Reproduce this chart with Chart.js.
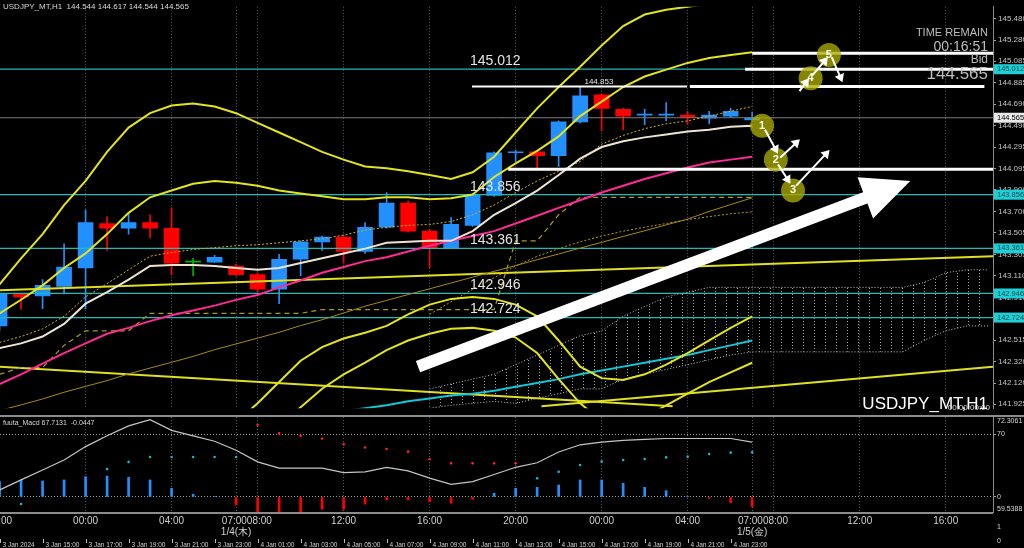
<!DOCTYPE html>
<html>
<head>
<meta charset="utf-8">
<script src="https://cdn.jsdelivr.net/npm/chart.js@4.4.1/dist/chart.umd.min.js"></script>
<style>
  html, body { margin: 0; padding: 0; background: #000; }
  #wrap { position: relative; width: 1024px; height: 548px; background: #000; overflow: hidden; }
  #main { position: absolute; left: 0; top: 0; }
  #sub { position: absolute; left: 0; top: 415px; }
</style>
</head>
<body>
<div id="wrap">
  <canvas id="main" width="1024" height="415"></canvas>
  <canvas id="sub" width="1024" height="133"></canvas>
</div>
<script>
// hourly bars, index 0 = 3 Jan 20:00 (JST)
const opens  = [142.647,142.941,142.923,143.012,143.181,143.591,143.547,143.600,143.547,143.235,143.235,143.199,143.119,142.985,143.261,143.422,143.466,143.333,143.556,143.778,143.520,143.368,143.573,143.849,144.242,144.251,144.215,144.527,144.776,144.643,144.589,144.589,144.589,144.562,144.580,144.544];
const highs  = [142.941,142.941,143.074,143.404,143.716,143.654,143.689,143.671,143.734,143.270,143.297,143.217,143.137,143.306,143.431,143.475,143.484,143.600,143.876,143.796,143.538,143.645,143.867,144.251,144.268,144.259,144.536,144.853,144.785,144.651,144.643,144.705,144.625,144.625,144.651,144.617];
const lows   = [142.602,142.798,142.807,142.941,142.807,143.342,143.493,143.458,143.119,143.110,143.235,143.110,142.959,142.852,143.110,143.342,143.226,143.315,143.547,143.511,143.181,143.360,143.564,143.841,144.161,144.099,144.117,144.518,144.446,144.455,144.500,144.536,144.509,144.509,144.571,144.544];
const closes = [142.941,142.914,143.021,143.190,143.600,143.547,143.600,143.547,143.226,143.237,143.279,143.119,142.985,143.261,143.422,143.466,143.333,143.556,143.778,143.520,143.368,143.582,143.858,144.242,144.251,144.215,144.527,144.767,144.651,144.580,144.591,144.592,144.571,144.589,144.625,144.565];
const greenBars = [9];

// indicators (price), same index as the bars
const maWhite  = [142.442,142.486,142.549,142.665,142.852,142.959,143.074,143.199,143.208,143.208,143.199,143.181,143.164,143.181,143.226,143.270,143.315,143.359,143.413,143.422,143.431,143.431,143.520,143.671,143.778,143.893,144.037,144.188,144.295,144.349,144.384,144.411,144.438,144.455,144.482,144.491];
const maPink   = [142.112,142.201,142.299,142.397,142.487,142.575,142.629,142.691,142.745,142.790,142.834,142.887,142.932,143.002,143.065,143.137,143.190,143.244,143.279,143.333,143.386,143.431,143.475,143.520,143.591,143.662,143.734,143.805,143.876,143.939,144.001,144.054,144.107,144.152,144.179,144.206];
const maDotted = [142.495,142.549,142.620,142.736,142.914,143.037,143.164,143.289,143.324,143.351,143.368,143.386,143.395,143.413,143.431,143.449,143.484,143.529,143.556,143.573,143.582,143.609,143.671,143.760,143.876,143.983,144.072,144.161,144.322,144.402,144.464,144.509,144.536,144.580,144.625,144.669];
const band1Up  = [142.763,142.888,143.021,143.181,143.315,143.493,143.689,143.832,143.894,143.956,143.983,143.965,143.939,143.894,143.867,143.841,143.814,143.814,143.832,143.832,143.814,143.823,143.858,144.019,144.144,144.260,144.393,144.580,144.714,144.848,144.945,145.008,145.070,145.115,145.142,145.168];
const band2Up  = [143.030,143.270,143.493,143.760,143.983,144.251,144.474,144.607,144.678,144.696,144.669,144.607,144.518,144.429,144.340,144.251,144.179,144.116,144.099,144.072,144.037,144.001,144.063,144.206,144.429,144.651,144.848,145.035,145.231,145.409,145.516,145.560,145.587,145.614,145.640,145.667];
const band1Dn  = [null,null,null,null,null,null,null,null,null,null,null,141.760,141.934,142.130,142.326,142.451,142.531,142.584,142.647,142.754,142.843,142.896,142.914,142.896,142.843,142.736,142.513,142.272,142.166,142.148,142.201,142.290,142.397,142.513,142.629,142.736];
const band2Dn  = [null,null,null,null,null,null,null,null,null,null,null,null,null,141.720,141.898,142.068,142.201,142.308,142.424,142.513,142.575,142.620,142.629,142.602,142.540,142.397,142.157,141.934,141.774,141.738,141.800,141.916,142.023,142.130,142.219,142.308];
const olive    = [141.867,141.920,141.974,142.036,142.090,142.143,142.205,142.259,142.312,142.366,142.428,142.481,142.535,142.588,142.650,142.704,142.766,142.829,142.882,142.936,142.989,143.043,143.096,143.150,143.203,143.257,143.310,143.364,143.417,143.471,143.524,143.578,143.631,143.702,143.765,143.827];
const oliveDot = [null,null,null,null,null,null,null,null,null,null,null,null,null,null,null,null,null,null,null,null,142.754,142.870,142.985,143.091,143.199,143.288,143.359,143.422,143.475,143.520,143.556,143.591,143.627,143.654,143.680,143.698];
const kijun    = [142.201,142.264,142.264,142.468,142.602,142.602,142.602,142.763,142.763,142.763,142.763,142.763,142.763,142.763,142.763,142.798,142.798,142.798,142.798,142.798,142.798,142.798,142.798,142.798,143.431,143.431,143.671,143.832,143.832,143.832,143.832,143.832,143.832,143.832,143.832,143.832];
const maCyan   = [null,null,null,null,null,null,null,null,null,null,null,null,null,null,null,null,141.863,141.889,141.916,141.952,141.979,142.005,142.023,142.050,142.086,142.121,142.157,142.201,142.237,142.272,142.308,142.344,142.379,142.424,142.468,142.513];

// cloud, index runs on into the future
const cloudTop = [null,null,null,null,null,null,null,null,null,null,null,null,null,null,null,null,null,null,null,null,142.067,142.112,142.157,142.201,142.290,142.379,142.468,142.557,142.602,142.736,142.825,142.914,142.959,143.002,143.002,143.002,143.002,143.002,143.002,143.002,143.002,143.002,143.002,143.047,143.137,143.164,143.164];
const cloudBot = [null,null,null,null,null,null,null,null,null,null,null,null,null,null,null,null,null,null,null,null,141.889,141.916,141.934,141.952,141.934,141.979,142.023,142.067,142.067,142.157,142.201,142.246,142.290,142.335,142.379,142.408,142.408,142.408,142.408,142.408,142.408,142.408,142.408,142.513,142.602,142.647,142.647];

// chart objects
const levelPrices = [145.012, 143.856, 143.361, 142.946, 142.724];
const bidPrice = 144.565;
const trendLines = [[0, 142.976, 46.2, 143.288], [0, 142.272, 31.3, 141.907], [25.2, 141.907, 46.2, 142.272]];
const whiteSegs = [[35.0, 46.2, 145.159, 3], [34.67, 46.2, 145.012, 3], [21.97, 31.97, 144.853, 2], [32.1, 45.8, 144.853, 3], [23.65, 46.2, 144.090, 3]];
const bigArrow = [19.46, 142.272, 42.35, 143.983];
const stepPoints = [[35.46, 144.491], [36.1, 144.179], [36.9, 143.895], [37.72, 144.928], [38.57, 145.142]];
const stepArrows = [[35.6, 144.455, 36.2, 144.233], [36.3, 144.197, 37.22, 144.366], [36.2, 144.135, 36.78, 143.957], [37.05, 143.940, 38.6, 144.268], [37.2, 144.810, 37.64, 144.928], [37.8, 144.955, 38.52, 145.124], [38.7, 145.124, 39.2, 144.892]];

// bottom panel
const macdHist = [17,18.9,17.8,18.9,22.6,23.3,21.9,18.9,9.6,3,0.5,-8.9,-18,-17,-16.3,-13.7,-13.7,-7.8,-3.3,-3.3,-5.2,-7,-2.6,4.1,9.6,10.7,13.3,18.9,18.9,15.2,10.7,7,0.4,-1.5,-6.3,-10.7];
const macdLine = [7.8,19,30,41,56,68,79,86,74,68,62,52,39,32,32,32,27,28,33,29,21,14,17,25,33,38,50,58,61,63,64,65,65,65,65,61];
const sigBlue  = [null,-7.8,null,null,null,31,39,44.4,44.4,44.4,44.4,44.4,null,null,null,null,null,null,null,null,null,null,null,null,null,20.7,28,35.6,39.3,41,42.2,44,44.8,47.8,49.3,49.6];
const sigRed   = [null,null,null,null,null,null,null,null,null,null,null,null,80,70.7,68,65,58.5,55,53.3,50.4,41.9,37.4,37.4,37.4,37.4,null,null,null,null,null,null,null,null,null,null,null];

// axes
const priceTicks = [145.480,145.280,145.085,144.885,144.690,144.490,144.295,144.095,143.900,143.700,143.505,143.305,143.110,142.910,142.715,142.515,142.320,142.120,141.925];
const gridHours = [4, 8, 11, 12, 16, 20, 24, 28, 32, 35, 36, 40, 44];
const hourLabels = [[0, '20:00'], [4, '00:00'], [8, '04:00'], [11.5, '07:0008:00'], [16, '12:00'], [20, '16:00'], [24, '20:00'], [28, '00:00'], [32, '04:00'], [35.5, '07:0008:00'], [40, '12:00'], [44, '16:00']];
const dayLabels = [[11, '1/4(木)'], [35, '1/5(金)']];
const serverLabels = ['3 Jan 2024','3 Jan 15:00','3 Jan 17:00','3 Jan 19:00','3 Jan 21:00','3 Jan 23:00','4 Jan 01:00','4 Jan 03:00','4 Jan 05:00','4 Jan 07:00','4 Jan 09:00','4 Jan 11:00','4 Jan 13:00','4 Jan 15:00','4 Jan 17:00','4 Jan 19:00','4 Jan 21:00','4 Jan 23:00'];

const X_MIN = 0.02, X_MAX = 46.2;
const P_MIN = 141.889, P_MAX = 145.587;
const FONT = 'Liberation Sans, Arial, sans-serif';
const UP = '#2290ff', DOWN = '#ff0000', GREEN = '#00b400';

const idx = opens.map((_, i) => i);
const xy = arr => arr.map((v, i) => ({ x: i, y: v }));
const barColor = idx.map(i => greenBars.includes(i) ? GREEN : (closes[i] >= opens[i] ? UP : DOWN));

function hatch() {
  const c = document.createElement('canvas');
  c.width = 11; c.height = 3;
  const g = c.getContext('2d');
  g.fillStyle = '#a4a4a4';
  g.fillRect(0, 0, 1, 1);
  return g.createPattern(c, 'repeat');
}

function lineDs(data, color, width, extra) {
  return Object.assign({ type: 'line', data: data, borderColor: color, borderWidth: width, pointRadius: 0, fill: false, tension: 0, order: 10 }, extra || {});
}

const datasets = [];
// cloud first (bottom)
datasets.push(lineDs(xy(cloudTop), '#c4c4c4', 1, { borderDash: [1, 2], fill: '+1', backgroundColor: hatch(), order: 60 }));
datasets.push(lineDs(xy(cloudBot), '#c4c4c4', 1, { borderDash: [1, 2], order: 60 }));
// candles
datasets.push({ type: 'bar', data: idx.map(i => ({ x: i, y: [lows[i], highs[i]] })), backgroundColor: barColor, barThickness: 1, grouped: false, order: 50 });
datasets.push({ type: 'bar', data: idx.map(i => ({ x: i, y: [opens[i], closes[i]] })), backgroundColor: barColor, barThickness: 15, minBarLength: 1, grouped: false, order: 49 });
// level lines
levelPrices.forEach(p => datasets.push(lineDs([{ x: X_MIN, y: p }, { x: X_MAX, y: p }], '#22b8b8', 1.2, { order: 40 })));
datasets.push(lineDs([{ x: X_MIN, y: bidPrice }, { x: X_MAX, y: bidPrice }], '#7a7a7a', 1, { order: 41 }));
trendLines.forEach(t => datasets.push(lineDs([{ x: t[0], y: t[1] }, { x: t[2], y: t[3] }], '#e0e020', 2, { order: 30 })));
// indicators
datasets.push(lineDs(xy(maCyan), '#10c8d8', 2, { order: 20 }));
datasets.push(lineDs(xy(olive), '#a88a10', 1, { order: 20 }));
datasets.push(lineDs(xy(oliveDot), '#b09a18', 1, { borderDash: [2, 2], order: 20 }));
datasets.push(lineDs(xy(kijun), '#a89a20', 1.2, { borderDash: [5, 4], order: 20 }));
datasets.push(lineDs(xy(maPink), '#ff2a96', 2, { order: 15 }));
datasets.push(lineDs(xy(maDotted), '#d0b020', 1, { borderDash: [2, 2], order: 15 }));
datasets.push(lineDs(xy(maWhite), '#efe4d2', 2, { order: 14 }));
[band1Up, band2Up, band1Dn, band2Dn].forEach(b => datasets.push(lineDs(xy(b), '#e4e41c', 2, { order: 13 })));
// white objects
whiteSegs.forEach(s => datasets.push(lineDs([{ x: s[0], y: s[2] }, { x: s[1], y: s[2] }], '#ffffff', s[3], { order: 5 })));
datasets.push({ type: 'line', data: stepPoints.map(p => ({ x: p[0], y: p[1] })), showLine: false, pointRadius: 12, pointHoverRadius: 12,
  pointBackgroundColor: 'rgba(170,170,0,0.78)', pointBorderWidth: 0, order: 3 });

function px(chart, x, y) {
  return [chart.scales.x.getPixelForValue(x), chart.scales.y.getPixelForValue(y)];
}
function arrow(ctx, a, b, width, headLen, headHalf) {
  const dx = b[0] - a[0], dy = b[1] - a[1];
  const len = Math.hypot(dx, dy), ux = dx / len, uy = dy / len;
  const bx = b[0] - ux * headLen, by = b[1] - uy * headLen;
  ctx.beginPath();
  ctx.lineWidth = width;
  ctx.moveTo(a[0], a[1]);
  ctx.lineTo(bx + ux * 2, by + uy * 2);
  ctx.stroke();
  ctx.beginPath();
  ctx.moveTo(b[0], b[1]);
  ctx.lineTo(bx - uy * headHalf, by + ux * headHalf);
  ctx.lineTo(bx + uy * headHalf, by - ux * headHalf);
  ctx.closePath();
  ctx.fill();
}

const mainPlugin = {
  id: 'mainObjects',
  afterDatasetsDraw(chart) {
    const ctx = chart.ctx;
    ctx.save();
    ctx.strokeStyle = '#ffffff';
    ctx.fillStyle = '#ffffff';
    arrow(ctx, px(chart, bigArrow[0], bigArrow[1]), px(chart, bigArrow[2], bigArrow[3]), 12, 48, 22);
    stepArrows.forEach(s => arrow(ctx, px(chart, s[0], s[1]), px(chart, s[2], s[3]), 2, 8, 5));
    ctx.font = 'bold 11px ' + FONT;
    ctx.textAlign = 'center';
    ctx.textBaseline = 'middle';
    stepPoints.forEach((p, k) => {
      const q = px(chart, p[0], p[1]);
      ctx.fillText(String(k + 1), q[0], q[1]);
    });
    // level labels
    ctx.font = '14px ' + FONT;
    ctx.textAlign = 'left';
    ctx.textBaseline = 'bottom';
    ctx.fillStyle = '#e4e4e4';
    levelPrices.forEach(p => {
      const q = px(chart, 21.88, p);
      ctx.fillText(p.toFixed(3), q[0], q[1] - 1);
    });
    ctx.font = '8px ' + FONT;
    const h = px(chart, 27.2, 144.853);
    ctx.fillText('144.853', h[0], h[1] - 1);
    ctx.restore();
  },
  afterDraw(chart) {
    const ctx = chart.ctx;
    const yS = chart.scales.y;
    ctx.save();
    // price boxes on the axis
    ctx.font = '7.5px ' + FONT;
    ctx.textBaseline = 'middle';
    ctx.textAlign = 'left';
    levelPrices.forEach(p => {
      const y = yS.getPixelForValue(p);
      ctx.fillStyle = '#1ecfd6';
      ctx.fillRect(994, y - 5, 30, 10);
      ctx.fillStyle = '#0b4a50';
      ctx.fillText(p.toFixed(3), 997, y);
    });
    const by = yS.getPixelForValue(bidPrice);
    ctx.fillStyle = '#e8e8e8';
    ctx.fillRect(994, by - 5, 30, 10);
    ctx.fillStyle = '#000';
    ctx.fillText(bidPrice.toFixed(3), 997, by);
    // screen texts
    ctx.fillStyle = '#d8d8d8';
    ctx.font = '8px ' + FONT;
    ctx.fillText('USDJPY_MT,H1  144.544 144.617 144.544 144.565', 3, 7);
    ctx.textAlign = 'right';
    ctx.fillStyle = '#bdbdbd';
    ctx.font = '11px ' + FONT;
    ctx.fillText('TIME REMAIN', 988, 33);
    ctx.font = '14px ' + FONT;
    ctx.fillText('00:16:51', 988, 47);
    ctx.font = '12px ' + FONT;
    ctx.fillText('Bid', 988, 60);
    ctx.font = '17px ' + FONT;
    ctx.fillText('144.565', 988, 74);
    ctx.fillStyle = '#ffffff';
    ctx.fillText('USDJPY_MT,H1', 988, 404);
    ctx.font = '8px ' + FONT;
    ctx.fillStyle = '#dddddd';
    ctx.fillText('00:00:00:00', 990, 408);
    ctx.restore();
  }
};

new Chart(document.getElementById('main'), {
  type: 'line',
  data: { datasets: datasets },
  options: {
    responsive: false, animation: false, devicePixelRatio: 1,
    layout: { padding: 0, autoPadding: false },
    plugins: { legend: { display: false }, tooltip: { enabled: false } },
    scales: {
      x: {
        type: 'linear', min: X_MIN, max: X_MAX, offset: false,
        afterBuildTicks: s => { s.ticks = gridHours.map(v => ({ value: v })); },
        ticks: { display: false },
        grid: { color: '#5a5a5a', drawTicks: false, offset: false },
        border: { display: false, dash: [1, 2] }
      },
      y: {
        position: 'right', min: P_MIN, max: P_MAX,
        afterBuildTicks: s => { s.ticks = priceTicks.map(v => ({ value: v })); },
        afterFit: s => { s.width = 31; },
        ticks: { color: '#c4c4c4', font: { size: 8, family: FONT }, padding: 2, autoSkip: false, callback: v => v.toFixed(3) },
        grid: { drawOnChartArea: false, color: '#a0a0a0', tickLength: 3 },
        border: { color: '#8a8a8a', width: 1 }
      }
    }
  },
  plugins: [mainPlugin]
});

// ---- bottom panel ----
const M_MIN = -16.7, M_MAX = 88.9;
const subPlugin = {
  id: 'subObjects',
  afterDraw(chart) {
    const ctx = chart.ctx;
    const xS = chart.scales.x, yS = chart.scales.y, area = chart.chartArea;
    ctx.save();
    // separators
    ctx.fillStyle = '#8c8c8c';
    ctx.fillRect(0, 0, 1024, 2);
    ctx.fillRect(0, area.bottom, 993, 2);
    ctx.fillStyle = '#d8d8d8';
    ctx.font = '7px ' + FONT;
    ctx.textBaseline = 'middle';
    ctx.textAlign = 'left';
    ctx.fillText('fuuta_Macd 67.7131  -0.0447', 3, 8);
    ctx.fillText('72.3061', 997, 6);
    ctx.fillText('70', 997, yS.getPixelForValue(70));
    ctx.fillText('0', 997, yS.getPixelForValue(0));
    ctx.fillText('59.5388', 997, area.bottom - 3);
    ctx.fillText('1', 997, 112);
    ctx.fillText('0', 997, 126);
    // time labels
    ctx.font = '10px ' + FONT;
    ctx.textAlign = 'center';
    ctx.fillStyle = '#d0d0d0';
    hourLabels.forEach(l => ctx.fillText(l[1], xS.getPixelForValue(l[0]), 106));
    dayLabels.forEach(l => ctx.fillText(l[1], xS.getPixelForValue(l[0]), 117));
    ctx.font = '6.5px ' + FONT;
    ctx.textAlign = 'left';
    ctx.strokeStyle = '#bbbbbb';
    ctx.lineWidth = 1;
    serverLabels.forEach((t, k) => {
      const x = Math.round(xS.getPixelForValue(k * 2)) + 0.5;
      ctx.beginPath();
      ctx.moveTo(x, 124); ctx.lineTo(x, 128);
      ctx.stroke();
      ctx.fillText(t, x + 2, 130);
    });
    ctx.restore();
  }
};

new Chart(document.getElementById('sub'), {
  type: 'line',
  data: {
    datasets: [
      { type: 'bar', data: xy(macdHist), backgroundColor: macdHist.map(v => v >= 0 ? UP : DOWN), barThickness: 2, grouped: false, order: 5 },
      lineDs(xy(macdLine), '#c4c4c4', 1.2, { order: 2 }),
      lineDs(xy(sigBlue), '#18b8d8', 0, { showLine: false, pointRadius: 1.3, pointBackgroundColor: '#18b8d8', pointBorderWidth: 0, order: 1 }),
      lineDs(xy(sigRed), '#ff2020', 0, { showLine: false, pointRadius: 1.3, pointBackgroundColor: '#ff2020', pointBorderWidth: 0, order: 1 })
    ]
  },
  options: {
    responsive: false, animation: false, devicePixelRatio: 1,
    layout: { padding: { top: 2 }, autoPadding: false },
    plugins: { legend: { display: false }, tooltip: { enabled: false } },
    scales: {
      x: {
        type: 'linear', min: X_MIN, max: X_MAX, offset: false,
        afterBuildTicks: s => { s.ticks = gridHours.map(v => ({ value: v })); },
        afterFit: s => { s.height = 36; },
        ticks: { display: false },
        grid: { color: '#5a5a5a', drawTicks: false, offset: false },
        border: { display: false, dash: [1, 2] }
      },
      y: {
        position: 'right', min: M_MIN, max: M_MAX,
        afterBuildTicks: s => { s.ticks = [{ value: 70 }, { value: 0 }]; },
        afterFit: s => { s.width = 31; },
        ticks: { display: false },
        grid: { color: '#9a9a9a', drawTicks: true, tickLength: 3 },
        border: { color: '#8a8a8a', dash: [1, 2] }
      }
    }
  },
  plugins: [subPlugin]
});
</script>
</body>
</html>
